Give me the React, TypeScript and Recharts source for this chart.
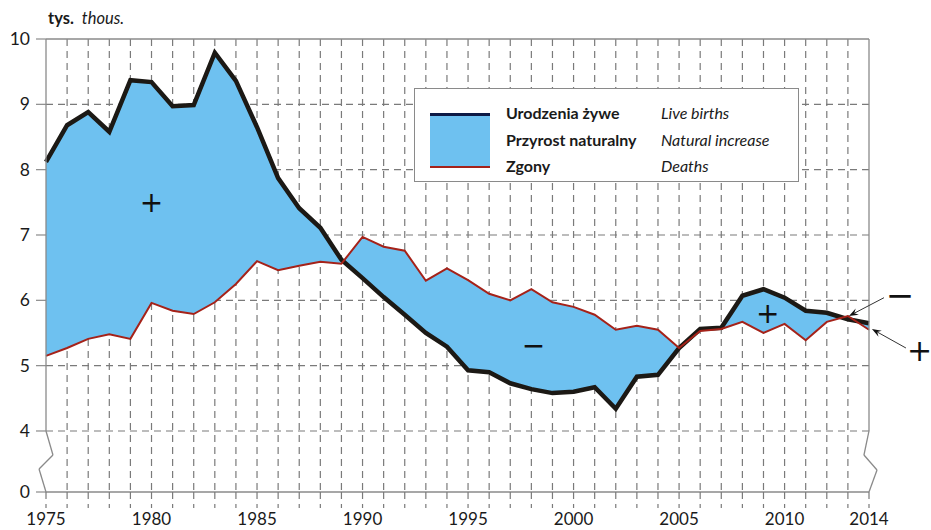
import { Area, CartesianGrid, ComposedChart, Line, ReferenceDot, ReferenceLine, XAxis, YAxis } from "recharts";

// population data, thousands
const years = [
  1975, 1976, 1977, 1978, 1979, 1980, 1981, 1982, 1983, 1984,
  1985, 1986, 1987, 1988, 1989, 1990, 1991, 1992, 1993, 1994,
  1995, 1996, 1997, 1998, 1999, 2000, 2001, 2002, 2003, 2004,
  2005, 2006, 2007, 2008, 2009, 2010, 2011, 2012, 2013, 2014,
];
const births = [
  8.12, 8.68, 8.88, 8.58, 9.37, 9.34, 8.97, 8.99, 9.79, 9.36,
  8.65, 7.87, 7.41, 7.11, 6.62, 6.34, 6.05, 5.78, 5.5, 5.29,
  4.93, 4.9, 4.73, 4.64, 4.58, 4.6, 4.67, 4.34, 4.83, 4.86,
  5.27, 5.56, 5.58, 6.07, 6.17, 6.04, 5.84, 5.81, 5.71, 5.65,
];
const deaths = [
  5.15, 5.27, 5.41, 5.48, 5.41, 5.96, 5.84, 5.79, 5.97, 6.25,
  6.6, 6.46, 6.53, 6.59, 6.56, 6.97, 6.82, 6.76, 6.3, 6.49,
  6.31, 6.1, 6.0, 6.17, 5.97, 5.9, 5.78, 5.55, 5.61, 5.55,
  5.27, 5.53, 5.56, 5.67, 5.5, 5.64, 5.39, 5.67, 5.76, 5.55,
];
const yTickLabels = [0, 4, 5, 6, 7, 8, 9, 10];
const xLabelYears = [1975, 1980, 1985, 1990, 1995, 2000, 2005, 2010, 2014];

// the axis is broken between 0 and 4, so 0 sits here on the axis
const BREAK_BASE = 3.066;
const toAxis = (v: number) => (v === 0 ? BREAK_BASE : v);

const data = years.map((year, i) => ({ year, births: births[i], deaths: deaths[i] }));

const FRAME = "#8a8a8a";
const GRID = "#7a7a7a";
const FONT = "Lato, 'Open Sans', sans-serif";

const leftFrame = [
  [1975, 10], [1975, 4], [1975.33, 3.632], [1974.67, 3.418], [1975, BREAK_BASE],
];
const rightFrame = [
  [2014, 10], [2014, 4], [2013.76, 3.632], [2014.38, 3.403], [2014, BREAK_BASE],
];
const signs = [
  { x: 1980, y: 7.5, t: "+", size: 28 },
  { x: 1998.1, y: 5.32, t: "−", size: 28 },
  { x: 2009.2, y: 5.81, t: "+", size: 28 },
  { x: 2015.47, y: 6.08, t: "−", size: 34 },
  { x: 2016.4, y: 5.24, t: "+", size: 30 },
];
const arrows = [
  [[2014.71, 6.04], [2013.05, 5.76]],
  [[2015.75, 5.27], [2014.14, 5.56]],
];

const XTick = (props: any) => {
  const { x, y, payload } = props;
  return (
    <g>
      <line x1={x} y1={y} x2={x} y2={y + 16} stroke={GRID} strokeWidth={1.2} strokeDasharray="7 5" />
      {xLabelYears.includes(payload.value) && (
        <text x={x} y={y + 33} textAnchor="middle" fontSize={17} fill="#1a1a1a" fontFamily={FONT}>
          {payload.value}
        </text>
      )}
    </g>
  );
};

const YTick = (props: any) => {
  const { x, y, payload } = props;
  const label = payload.value < 3.5 ? "0" : String(payload.value);
  return (
    <text x={x} y={y} dy={6} textAnchor="end" fontSize={17.5} fill="#1a1a1a" fontFamily={FONT}>
      {label}
    </text>
  );
};

const Arrow = (props: any) => {
  const { x1, y1, x2, y2 } = props;
  const a = Math.atan2(y2 - y1, x2 - x1);
  const L = 10;
  const p1 = [x2 - L * Math.cos(a - 0.35), y2 - L * Math.sin(a - 0.35)];
  const p2 = [x2 - L * Math.cos(a + 0.35), y2 - L * Math.sin(a + 0.35)];
  const m = [x2 - 6 * Math.cos(a), y2 - 6 * Math.sin(a)];
  return (
    <g>
      <line x1={x1} y1={y1} x2={m[0]} y2={m[1]} stroke="#333" strokeWidth={1} />
      <polygon points={`${x2},${y2} ${p1[0]},${p1[1]} ${m[0]},${m[1]} ${p2[0]},${p2[1]}`} fill="#111" />
    </g>
  );
};

const segments = (pts: number[][], key: string) =>
  pts.slice(1).map((p, i) => (
    <ReferenceLine
      key={key + i}
      segment={[{ x: pts[i][0], y: pts[i][1] }, { x: p[0], y: p[1] }]}
      stroke={FRAME}
      strokeWidth={1.3}
      ifOverflow="visible"
    />
  ));

export default function App() {
  return (
    <div style={{ position: "relative", width: 931, height: 530, fontFamily: FONT, color: "#1a1a1a" }}>
      <style>{`body{margin:0}`}</style>
      <ComposedChart width={931} height={530} data={data} margin={{ top: 39, right: 62, left: 0, bottom: 0 }}>
        <CartesianGrid
          stroke={GRID}
          strokeWidth={1.2}
          strokeDasharray="7 5"
          verticalValues={years.slice(1, -1)}
          horizontalValues={[4, 5, 6, 7, 8, 9]}
        />
        <XAxis
          dataKey="year"
          type="number"
          domain={[1975, 2014]}
          ticks={years}
          interval={0}
          height={38}
          tickSize={0}
          tickMargin={0}
          tickLine={false}
          axisLine={{ stroke: FRAME, strokeWidth: 1.3 }}
          tick={<XTick />}
        />
        <YAxis
          type="number"
          domain={[BREAK_BASE, 10]}
          allowDataOverflow
          ticks={yTickLabels.map(toAxis)}
          interval={0}
          width={46}
          tickSize={10}
          tickMargin={6}
          axisLine={false}
          tickLine={{ stroke: FRAME, strokeWidth: 1.2 }}
          tick={<YTick />}
        />
        <Area
          dataKey={(d: any) => [d.deaths, d.births]}
          type="linear"
          stroke="none"
          fill="#6EC1F0"
          fillOpacity={1}
          isAnimationActive={false}
        />
        <Line dataKey="births" type="linear" stroke="#1c1915" strokeWidth={4.5} dot={false} activeDot={false} isAnimationActive={false} />
        <Line dataKey="deaths" type="linear" stroke="#a52219" strokeWidth={2} dot={false} activeDot={false} isAnimationActive={false} />
        <ReferenceLine segment={[{ x: 1975, y: 10 }, { x: 2014, y: 10 }]} stroke={FRAME} strokeWidth={1.3} ifOverflow="visible" />
        {segments(leftFrame, "l")}
        {segments(rightFrame, "r")}
        {arrows.map((a, i) => (
          <ReferenceLine
            key={"a" + i}
            segment={[{ x: a[0][0], y: a[0][1] }, { x: a[1][0], y: a[1][1] }]}
            ifOverflow="visible"
            shape={<Arrow />}
          />
        ))}
        {signs.map((s, i) => (
          <ReferenceDot
            key={"s" + i}
            x={s.x}
            y={s.y}
            r={0}
            ifOverflow="visible"
            shape={(p: any) => (
              <text x={p.cx} y={p.cy} dy={s.size * 0.36} textAnchor="middle" fontSize={s.size} fontFamily="'DejaVu Sans', sans-serif" fill="#111">
                {s.t}
              </text>
            )}
          />
        ))}
      </ComposedChart>

      <div style={{ position: "absolute", left: 48, top: 8, fontSize: 16.5, whiteSpace: "nowrap" }}>
        <b>tys.</b>
        <i style={{ marginLeft: 8 }}>thous.</i>
      </div>

      <div
        style={{
          position: "absolute",
          left: 414,
          top: 88,
          width: 383,
          height: 92,
          border: `1.5px solid ${FRAME}`,
          background: "#fff",
          fontSize: 16,
        }}
      >
        <div
          style={{
            position: "absolute",
            left: 15,
            top: 24,
            width: 60,
            height: 50,
            background: "#6EC1F0",
            borderTop: "3px solid #0d1a45",
            borderBottom: "2px solid #a52219",
          }}
        />
        {[
          ["Urodzenia żywe", "Live births", 14],
          ["Przyrost naturalny", "Natural increase", 41],
          ["Zgony", "Deaths", 67],
        ].map(([pl, en, top]) => (
          <div key={pl as string} style={{ position: "absolute", top: top as number, left: 91, whiteSpace: "nowrap" }}>
            <b>{pl}</b>
            <i style={{ position: "absolute", left: 155 }}>{en}</i>
          </div>
        ))}
      </div>
    </div>
  );
}
